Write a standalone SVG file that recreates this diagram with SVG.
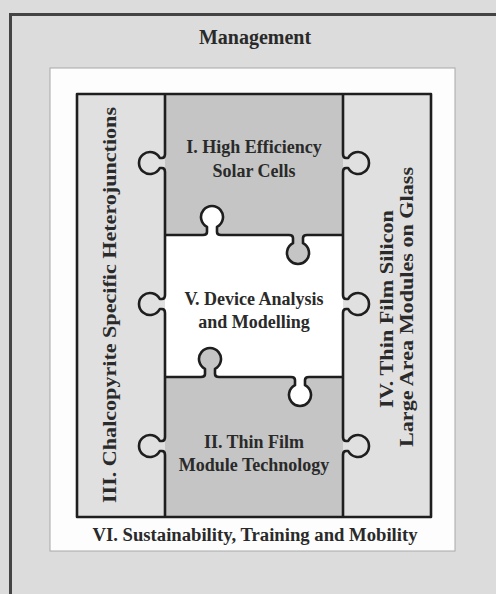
<svg xmlns="http://www.w3.org/2000/svg" width="496" height="594" viewBox="0 0 496 594">
<style>
.t{font-family:"Liberation Serif","Times New Roman",serif;font-weight:bold;fill:#2a2a2a;font-size:18px}
.c{text-anchor:middle}
.ol{fill:none;stroke:#1e1e1e;stroke-width:2.6;stroke-linejoin:round}
.col{fill:#e0e0e0}
.gray{fill:#c5c5c5}
.white{fill:#ffffff}
</style>
<g id="background">
<rect x="0" y="0" width="496" height="594" fill="#dcdcdc"/>
<path d="M10.5,594 L10.5,14.5 L496,14.5" fill="none" stroke="#444" stroke-width="3"/>
<rect x="50" y="68" width="405" height="483" fill="#fdfdfd" stroke="#a8a8a8" stroke-width="1"/>
</g>
<g id="management">
<text class="t c" x="255" y="44" style="font-size:20px">Management</text>
</g>
<g id="col3">
<rect class="col" x="77" y="94" width="88" height="423"/>
<text class="t c" transform="translate(116,305) rotate(-90)" textLength="396" lengthAdjust="spacingAndGlyphs">III. Chalcopyrite Specific Heterojunctions</text>
</g>
<g id="col4">
<rect class="col" x="343" y="94" width="88" height="423"/>
<text class="t c" transform="translate(393,309) rotate(-90)" textLength="198" lengthAdjust="spacingAndGlyphs">IV. Thin Film Silicon</text>
<text class="t c" transform="translate(413,307) rotate(-90)" textLength="280" lengthAdjust="spacingAndGlyphs">Large Area Modules on Glass</text>
</g>
<g id="piece1">
<rect class="gray" x="165" y="94" width="178" height="141"/>
<path class="gray" d="M289,235 Q293,235 293,238 L293,243.2 A11 11 0 1 0 303,243.2 L303,238 Q303,235 307,235 Z"/>
<text class="t c" x="254" y="153">I. High Efficiency</text>
<text class="t c" x="254" y="177">Solar Cells</text>
</g>
<g id="piece2">
<rect class="gray" x="165" y="377" width="178" height="140"/>
<path class="gray" d="M201,377 Q205,377 205,374 L205,368.8 A11 11 0 1 1 215,368.8 L215,374 Q215,377 219,377 Z"/>
<text class="t c" x="254" y="448">II. Thin Film</text>
<text class="t c" x="254" y="471">Module Technology</text>
</g>
<g id="piece5">
<path class="white" d="M165,235 L203,235 Q207,235 207,232 L207,226.8 A11 11 0 1 1 217,226.8 L217,232 Q217,235 221,235 L289,235 Q293,235 293,238 L293,243.2 A11 11 0 1 0 303,243.2 L303,238 Q303,235 307,235 L343,235 L343,377 L309,377 Q305,377 305,380 L305,385.2 A11 11 0 1 1 295,385.2 L295,380 Q295,377 291,377 L219,377 Q215,377 215,374 L215,368.8 A11 11 0 1 0 205,368.8 L205,374 Q205,377 201,377 L165,377 Z"/>
<text class="t c" x="254" y="305">V. Device Analysis</text>
<text class="t c" x="254" y="328">and Modelling</text>
</g>
<g id="connectors">
<path class="ol" d="M165,94 L165,154 Q165,158 162,158 L159.8,158 A11 11 0 1 0 159.8,168 L162,168 Q165,168 165,172 L165,295 Q165,299 162,299 L159.8,299 A11 11 0 1 0 159.8,309 L162,309 Q165,309 165,313 L165,437 Q165,441 162,441 L159.8,441 A11 11 0 1 0 159.8,451 L162,451 Q165,451 165,455 L165,517"/>
<path class="ol" d="M343,94 L343,154 Q343,158 346,158 L348.2,158 A11 11 0 1 1 348.2,168 L346,168 Q343,168 343,172 L343,295 Q343,299 346,299 L348.2,299 A11 11 0 1 1 348.2,309 L346,309 Q343,309 343,313 L343,437 Q343,441 346,441 L348.2,441 A11 11 0 1 1 348.2,451 L346,451 Q343,451 343,455 L343,517"/>
<path class="ol" d="M165,235 L203,235 Q207,235 207,232 L207,226.8 A11 11 0 1 1 217,226.8 L217,232 Q217,235 221,235 L289,235 Q293,235 293,238 L293,243.2 A11 11 0 1 0 303,243.2 L303,238 Q303,235 307,235 L343,235"/>
<path class="ol" d="M165,377 L201,377 Q205,377 205,374 L205,368.8 A11 11 0 1 1 215,368.8 L215,374 Q215,377 219,377 L291,377 Q295,377 295,380 L295,385.2 A11 11 0 1 0 305,385.2 L305,380 Q305,377 309,377 L343,377"/>
<rect class="ol" x="77" y="94" width="354" height="423"/>
</g>
<g id="sustainability">
<text class="t c" x="255" y="541" textLength="325" lengthAdjust="spacingAndGlyphs">VI. Sustainability, Training and Mobility</text>
</g>
</svg>
